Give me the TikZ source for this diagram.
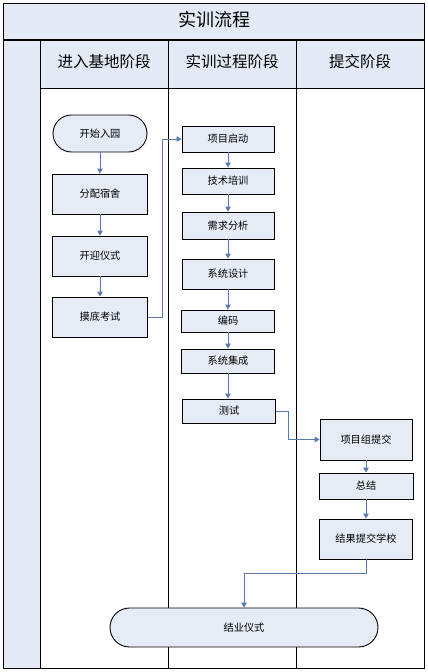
\documentclass[tikz,border=0pt]{standalone}
\usepackage{fontspec}
\newfontfamily\cjk{Noto Sans CJK SC}
\usetikzlibrary{arrows.meta}
\definecolor{boxfill}{HTML}{E6ECF6}
\definecolor{lanefill}{HTML}{E4EAF5}
\definecolor{flowcol}{HTML}{5A7BA8}
\tikzset{
  stepbox/.style={draw=black, line width=0.9pt, fill=boxfill, font=\cjk\fontsize{10.2}{12}\selectfont, inner sep=0pt},
  roundbox/.style={stepbox},
  flow/.style={draw=flowcol, line width=1pt, -{Triangle[length=5pt,width=5.5pt]}},
  lane/.style={draw=black, line width=0.9pt},
  hdr/.style={font=\cjk\fontsize{15.5}{18}\selectfont, inner sep=0pt},
}
\begin{document}
\begin{tikzpicture}[x=1pt,y=-1pt]
\useasboundingbox (0,0) rectangle (428,672);
% backgrounds
\fill[lanefill] (3,3) rectangle (424,40);
\fill[lanefill] (40.7,40) rectangle (424,88);
\fill[lanefill] (3,40) rectangle (40.7,668);
% lane lines
\draw[lane] (40.7,40) -- (40.7,668);
\draw[lane] (168,40) -- (168,668);
\draw[lane] (296,40) -- (296,668);
\draw[lane] (40.7,88) -- (424,88);
\draw[black, line width=1.6pt] (3,40) -- (424,40);
\draw[black, line width=1pt] (3,3) rectangle (424,668);
% titles
\node[font=\cjk\fontsize{18}{21}\selectfont, inner sep=0pt] (title) at (214,20) {实训流程};
\node[hdr] (h1) at (104,62) {进入基地阶段};
\node[hdr] (h2) at (232,62) {实训过程阶段};
\node[hdr] (h3) at (360,62) {提交阶段};
% nodes
\node[roundbox, rounded corners=18.5pt, minimum width=94pt, minimum height=37pt] (s) at (100,133.5) {开始入园};
\node[stepbox, minimum width=95pt, minimum height=40pt] (a1) at (100,194) {分配宿舍};
\node[stepbox, minimum width=95pt, minimum height=40pt] (a2) at (100,256) {开迎仪式};
\node[stepbox, minimum width=95pt, minimum height=40pt] (a3) at (100,317) {摸底考试};
\node[stepbox, minimum width=92pt, minimum height=26pt] (b1) at (228,139) {项目启动};
\node[stepbox, minimum width=92pt, minimum height=26pt] (b2) at (228,181) {技术培训};
\node[stepbox, minimum width=92pt, minimum height=27pt] (b3) at (228,225.5) {需求分析};
\node[stepbox, minimum width=92pt, minimum height=30pt] (b4) at (228,274) {系统设计};
\node[stepbox, minimum width=93pt, minimum height=22pt] (b5) at (228,321) {编码};
\node[stepbox, minimum width=93pt, minimum height=24pt] (b6) at (228,361) {系统集成};
\node[stepbox, minimum width=93pt, minimum height=24pt] (b7) at (229,411) {测试};
\node[stepbox, minimum width=92pt, minimum height=41pt] (c1) at (366,439.5) {项目组提交};
\node[stepbox, minimum width=94pt, minimum height=26pt] (c2) at (366,486) {总结};
\node[stepbox, minimum width=93pt, minimum height=40pt] (c3) at (366,539) {结果提交学校};
\node[roundbox, rounded corners=19.5pt, minimum width=268pt, minimum height=39pt] (e) at (244,627.5) {结业仪式};
% connectors
\draw[flow] (s.south) -- (a1.north);
\draw[flow] (a1.south) -- (a2.north);
\draw[flow] (a2.south) -- (a3.north);
\draw[flow] (a3.east) -- ++(15,0) |- (b1.west);
\draw[flow] (b1.south) -- (b2.north);
\draw[flow] (b2.south) -- (b3.north);
\draw[flow] (b3.south) -- (b4.north);
\draw[flow] (b4.south) -- (b5.north);
\draw[flow] (b5.south) -- (b6.north);
\draw[flow] (b6.south) -- (b6.south |- b7.north);
\draw[flow] (b7.east) -- ++(13,0) |- (c1.west);
\draw[flow] (c1.south) -- (c2.north);
\draw[flow] (c2.south) -- (c3.north);
\draw[flow] (c3.south) -- ++(0,14) -| (e.north);
\end{tikzpicture}
\end{document}
